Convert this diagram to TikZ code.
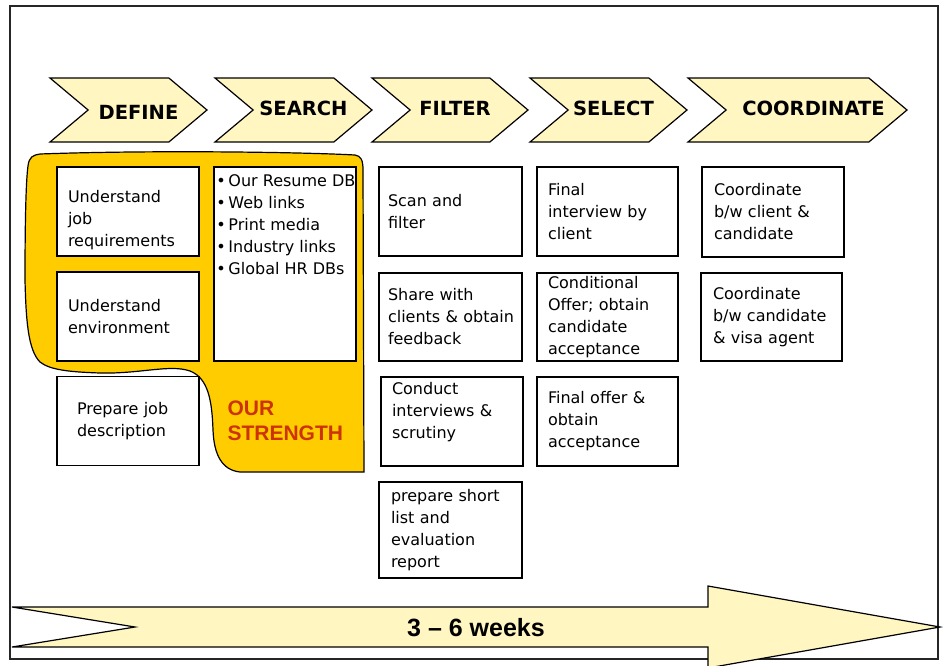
\documentclass[tikz,border=0pt]{standalone}
\usepackage{fontspec}
\setmainfont{DejaVu Sans}
\newfontfamily\arialfont{Liberation Sans}
\usetikzlibrary{shapes.symbols}
\definecolor{phasefill}{HTML}{FFF6C2}
\definecolor{blobfill}{HTML}{FFCC00}
\definecolor{strengthred}{HTML}{CC3300}
\begin{document}
\begin{tikzpicture}[x=1pt, y=-1pt,
  chevron/.style={signal, signal to=east, signal from=west, signal pointer angle=80,
    draw, line width=1.2pt, fill=phasefill, minimum height=64pt, inner sep=0pt},
  phase/.style={font=\bfseries\fontsize{19.5}{20}\selectfont},
  task/.style={draw, line width=1.5pt, fill=white, minimum width=142pt, minimum height=89pt,
    align=left, text width=120pt, inner sep=0pt, font=\fontsize{16}{22}\selectfont}]
  \useasboundingbox (0,0) rectangle (943,665);
  \draw[line width=1.5pt, draw=black!85] (10,6) rectangle (938,659);

  % our strength area
  \draw[line width=1.2pt, fill=blobfill] (40,154) .. controls (150,150) and (300,152) .. (355,155)
    .. controls (361,156) and (363,160) .. (363,170) -- (364,472) -- (240,472)
    .. controls (222,470) and (214,455) .. (213,430) .. controls (212,400) and (208,378) .. (190,371)
    .. controls (170,364) and (140,374) .. (100,373) .. controls (70,372) and (50,370) .. (40,362)
    .. controls (28,350) and (26,320) .. (25,280) .. controls (25,220) and (26,180) .. (28,166)
    .. controls (29,157) and (33,155) .. (40,154) -- cycle;

  \node(req)[task] at (128,211.5) {\rule{0pt}{30pt}Understand\\job\\requirements};
  \node(env)[task] at (128,316.5) {Understand\\environment};
  \node(desc)[task, text width=102pt] at (128,421) {Prepare job\\description};
  \node(src)[task, minimum height=194pt] at (285,264) {};
  \node(srcT)[anchor=north west, align=left, inner sep=0pt, font=\fontsize{16}{22}\selectfont]
    at ([xshift=3pt, yshift=-8pt]src.north west)
    {\makebox[12pt][l]{•}Our Resume DB\\\makebox[12pt][l]{•}Web links\\
     \makebox[12pt][l]{•}Print media\\\makebox[12pt][l]{•}Industry links\\
     \makebox[12pt][l]{•}Global HR DBs};
  \node(strength)[anchor=west, align=left, text=strengthred,
    font=\arialfont\bfseries\fontsize{21}{25}\selectfont] at (224,420.5) {OUR\\STRENGTH};

  \node(scan)[task, minimum width=143pt, text width=125pt] at (450.5,211.5) {Scan and\\filter};
  \node(share)[task, minimum width=143pt, minimum height=88pt, text width=125pt] at (450.5,317)
    {Share with\\\mbox{clients \& obtain}\\feedback};
  \node(conduct)[task] at (452,421.5) {Conduct\\interviews \&\\scrutiny\rule[-22pt]{0pt}{0pt}};
  \node(short)[task, minimum width=143pt, minimum height=96pt, text width=119pt] at (450.5,530)
    {prepare short\\list and\\evaluation\\report};

  \node(final)[task, minimum width=141pt, text width=119pt] at (607.5,211.5) {Final\\interview by\\client};
  \node(cond)[task, minimum width=141pt, minimum height=88pt, text width=119pt] at (607.5,317)
    {Conditional\\Offer; obtain\\candidate\\acceptance};
  \node(offer)[task, minimum width=141pt, text width=119pt] at (607.5,421.5) {Final offer \&\\obtain\\acceptance};

  \node(coordA)[task, minimum height=90pt, text width=118pt] at (773,212) {Coordinate\\b/w client \&\\candidate};
  \node(coordB)[task, minimum width=141pt, minimum height=88pt, text width=117pt] at (771.5,317)
    {Coordinate\\b/w candidate\\\& visa agent};

  % phase chevrons
  \foreach \x/\w/\n/\t/\dx/\ty in {128.5/157/define/DEFINE/10/112, 293.5/157/search/SEARCH/10/108,
      450/156/filter/FILTER/5/108, 608.5/157/select/SELECT/5/108, 797.5/219/coord/COORDINATE/16/108}{%
    \node(\n)[chevron, minimum width=\w pt] at (\x,110) {};
    \node(\n T)[phase] at (\x+\dx,\ty) {\t};
  }

  % duration arrow
  \draw[line width=1.2pt, fill=phasefill] (12,607) -- (708,607) -- (708,586) -- (940,627)
    -- (708,668) -- (708,647) -- (12,647) -- (135,627) -- cycle;
  \node(weeks)[font=\arialfont\bfseries\fontsize{25}{26}\selectfont] at (476,628) {3 – 6 weeks};
\end{tikzpicture}
\end{document}
